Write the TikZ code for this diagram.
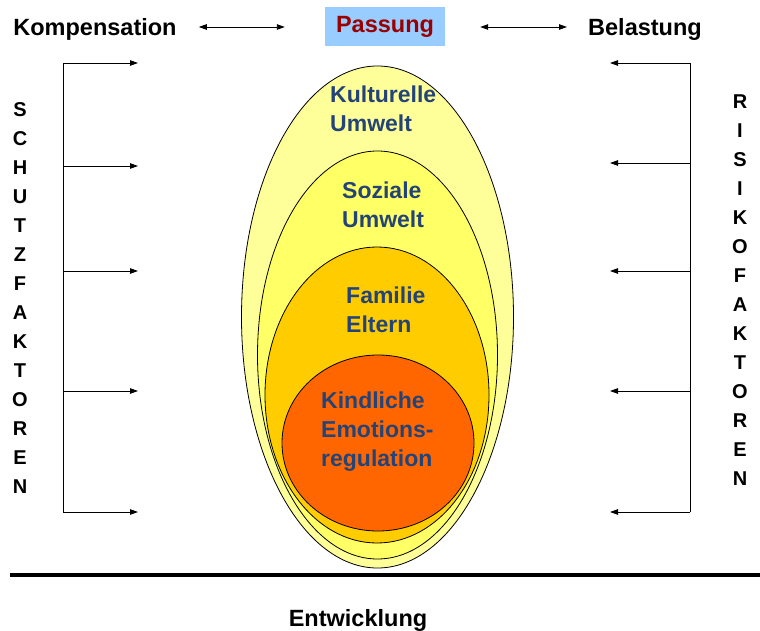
\documentclass[tikz,border=0pt]{standalone}
\usepackage{fontspec}
\setmainfont{Liberation Sans}
\usetikzlibrary{arrows.meta,positioning,shapes.geometric}
\definecolor{pale}{RGB}{255,255,153}
\definecolor{lemon}{RGB}{255,255,102}
\definecolor{gold}{RGB}{255,204,0}
\definecolor{flame}{RGB}{255,102,0}
\definecolor{navy}{RGB}{36,68,120}
\definecolor{sky}{RGB}{153,204,255}
\definecolor{wine}{RGB}{153,0,0}
\tikzset{
  >={Triangle[length=8pt,width=5.5pt]},
  ring/.style={ellipse,draw=black,line width=0.8pt,fill=#1,inner sep=0pt},
  ring/.default=pale,
  head/.style={font=\fontsize{23.5}{29}\selectfont\bfseries,inner sep=0pt},
  inlabel/.style={font=\fontsize{23}{29}\selectfont\bfseries,text=navy,
    align=left,anchor=west,inner sep=0pt},
  side/.style={font=\fontsize{20}{29}\selectfont\bfseries,align=center,inner sep=0pt},
  pfeil/.style={->,line width=0.9pt},
}
\begin{document}
\begin{tikzpicture}[x=1pt,y=-1pt]
  \useasboundingbox (0,0) rectangle (760,631);
  % nested rings
  \node[ring=pale,minimum width=272pt,minimum height=502pt] (kultur) at (377.5,317) {};
  \node[ring=lemon,minimum width=240pt,minimum height=408pt] (sozial) at (377.5,355) {};
  \node[ring=gold,minimum width=224pt,minimum height=296pt] (familie) at (377,395) {};
  \node[ring=flame,minimum width=192pt,minimum height=176pt] (kind) at (378,443) {};
  \node[inlabel] (tk) at (330,109) {Kulturelle\\Umwelt};
  \node[inlabel] (ts) at (342,205) {Soziale\\Umwelt};
  \node[inlabel] (tf) at (346,309.5) {Familie\\Eltern};
  \node[inlabel] (tc) at (321,432) {Kindliche\\Emotions-\\regulation};
  % top row
  \node[head,fill=sky,text=wine,minimum width=120pt,minimum height=39pt] (pass) at (385,27) {Passung};
  \node[head] (komp) at (95,29.5) {Kompensation};
  \node[head] (bel) at (645,29.5) {Belastung};
  \draw[<->,line width=0.9pt] ([xshift=22pt,yshift=2.5pt]komp.east) -- ([xshift=-40pt]pass.west);
  \draw[<->,line width=0.9pt] ([xshift=35pt]pass.east) -- ([xshift=-21pt,yshift=2.5pt]bel.west);
  % side brackets
  \node[side] (schutz) at (20,298) {S\\C\\H\\U\\T\\Z\\F\\A\\K\\T\\O\\R\\E\\N};
  \node[side] (risiko) at (740,290.5) {R\\I\\S\\I\\K\\O\\F\\A\\K\\T\\O\\R\\E\\N};
  \foreach \i/\y in {1/63,2/166,3/271,4/391,5/512}{
    \coordinate (ls\i) at (63,\y);
    \coordinate (lz\i) at (138,\y);
    \draw[pfeil] (ls\i) -- (lz\i);
  }
  \foreach \i/\y in {1/63,2/163,3/271,4/391,5/512}{
    \coordinate (rs\i) at (690,\y);
    \coordinate (rz\i) at (610,\y);
    \draw[pfeil] (rs\i) -- (rz\i);
  }
  \draw[line width=0.9pt] (ls1) -- (ls5);
  \draw[line width=0.9pt] (rs1) -- (rs5);
  % baseline
  \coordinate (b1) at (10,575);
  \coordinate (b2) at (760,575);
  \draw[line width=3.5pt] (b1) -- (b2);
  \node[head] (entw) at (358,620) {Entwicklung};
\end{tikzpicture}
\end{document}
